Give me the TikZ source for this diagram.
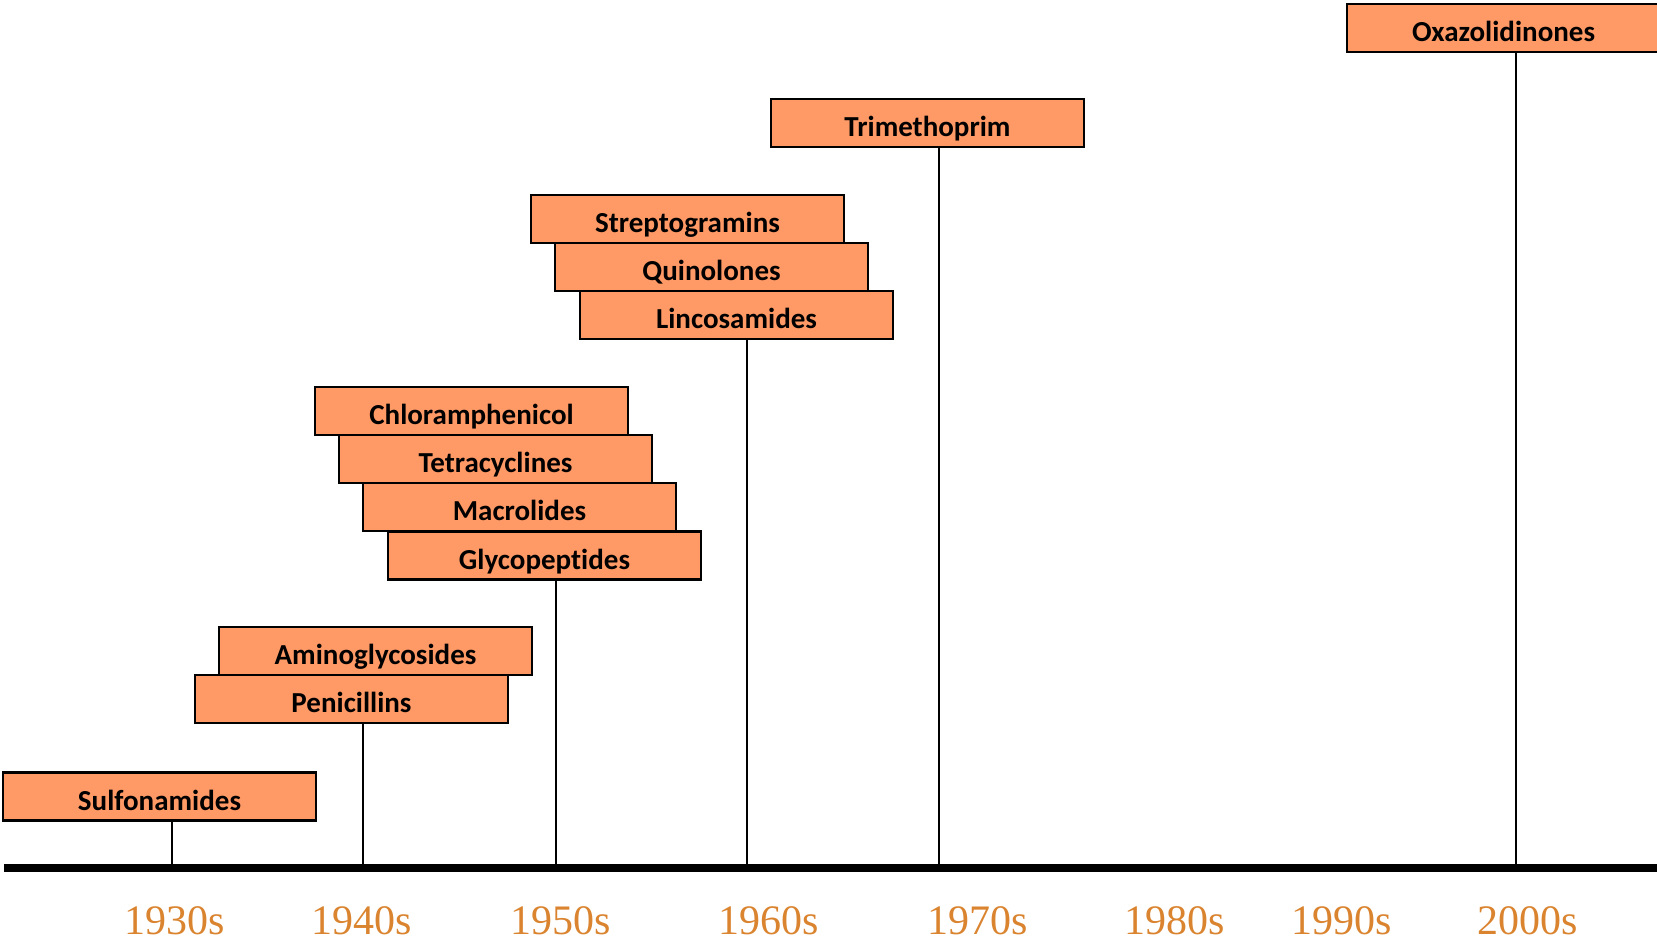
\documentclass[tikz,border=0pt]{standalone}
\usepackage{fontspec}
\setmainfont{Liberation Serif}
\newfontfamily\boxfont[Ligatures=NoCommon]{Carlito}
\definecolor{boxfill}{RGB}{255,154,102}
\definecolor{yearcol}{RGB}{218,132,48}
\begin{document}
\begin{tikzpicture}[x=1pt,y=-1pt,line join=miter,
  drugbox/.style={draw=black,line width=2.4pt,fill=boxfill,minimum width=313pt,
    minimum height=48pt,inner sep=0pt,text height=27pt,text depth=0pt,
    font=\boxfont\bfseries\fontsize{29}{29}\selectfont},
  stem/.style={draw=black,line width=2pt},
  decade/.style={anchor=base,text=yearcol,font=\fontsize{42}{42}\selectfont}]
\useasboundingbox (0,0) rectangle (1657,940);
  % Axis
  \coordinate (axisL) at (4,868);
  \coordinate (axisR) at (1670,868);
  \draw [line width=8pt] (axisL) -- (axisR);
  \coordinate (t1930) at (172,868);
  \coordinate (t1940) at (363,868);
  \coordinate (t1950) at (556,868);
  \coordinate (t1960) at (747,868);
  \coordinate (t1970) at (939,868);
  \coordinate (t2000) at (1516,868);
  % Node: Sulfonamides
  \node [drugbox] (sulfa) at (159.5,796.5) {Sulfonamides};
  % Node: Aminoglycosides, Penicillins
  \node [drugbox] (amino) at (375.5,651) {Aminoglycosides};
  \node [drugbox] (penic) at (351.5,699) {Penicillins};
  % Node: Chloramphenicol ... Glycopeptides
  \node [drugbox] (chlor) at (471.5,411) {Chloramphenicol};
  \node [drugbox] (tetra) at (495.5,459) {Tetracyclines};
  \node [drugbox] (macro) at (519.5,507) {Macrolides};
  \node [drugbox] (glyco) at (544.5,555.5) {Glycopeptides};
  % Node: Streptogramins ... Lincosamides
  \node [drugbox] (strep) at (687.5,219) {Streptogramins};
  \node [drugbox] (quino) at (711.5,267) {Quinolones};
  \node [drugbox] (linco) at (736.5,315) {Lincosamides};
  % Node: Trimethoprim
  \node [drugbox] (trime) at (927.5,123) {Trimethoprim};
  % Node: Oxazolidinones
  \node [drugbox] (oxazo) at (1503.5,28) {Oxazolidinones};
  % Edge: boxes -> Axis
  \draw [stem] (t1930 |- sulfa.south) -- (t1930);
  \draw [stem] (t1940 |- penic.south) -- (t1940);
  \draw [stem] (t1950 |- glyco.south) -- (t1950);
  \draw [stem] (t1960 |- linco.south) -- (t1960);
  \draw [stem] (t1970 |- trime.south) -- (t1970);
  \draw [stem] (t2000 |- oxazo.south) -- (t2000);
  % Decades
  \node [decade] (y1930) at (175,934) {1930s};
  \node [decade] (y1940) at (362,934) {1940s};
  \node [decade] (y1950) at (561,934) {1950s};
  \node [decade] (y1960) at (769,934) {1960s};
  \node [decade] (y1970) at (978,934) {1970s};
  \node [decade] (y1980) at (1175,934) {1980s};
  \node [decade] (y1990) at (1342,934) {1990s};
  \node [decade] (y2000) at (1528,934) {2000s};
%
\end{tikzpicture}
\end{document}
